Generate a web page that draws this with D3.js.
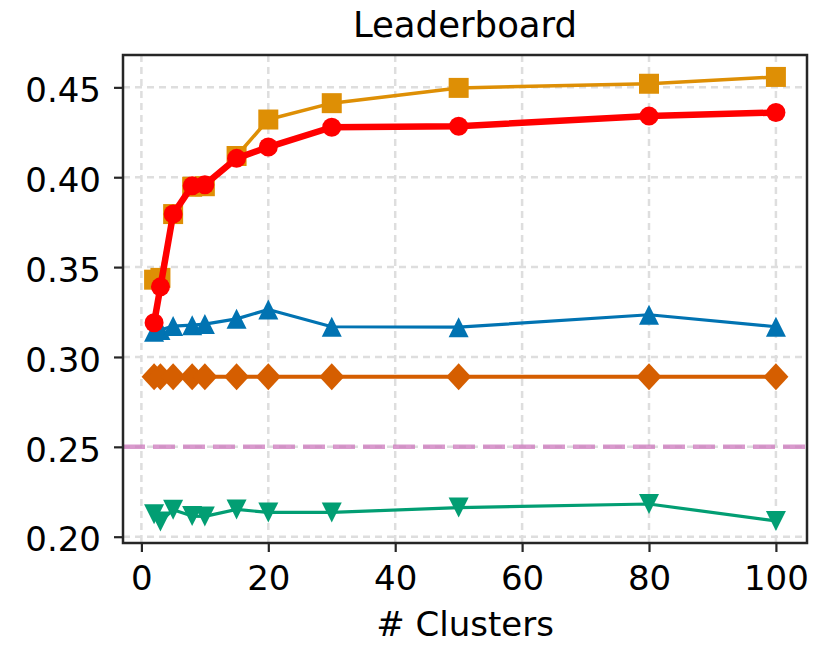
<!DOCTYPE html>
<html>
<head>
<meta charset="utf-8">
<script src="https://cdn.jsdelivr.net/npm/d3@7"></script>
<style>
  html, body { margin: 0; padding: 0; background: #fff; }
  svg { display: block; font-family: "DejaVu Sans", sans-serif; }
</style>
</head>
<body>
<svg id="chart" width="819" height="645"></svg>
<script>
// Number of clusters on the x axis
const clusters = [2, 3, 5, 8, 10, 15, 20, 30, 50, 80, 100];

// Leaderboard score per method
const goldSquares = [0.343, 0.344, 0.3795, 0.3947, 0.395, 0.4118, 0.4321, 0.4412, 0.4497, 0.452, 0.4558];
const redCircles  = [0.319, 0.339, 0.3795, 0.3952, 0.3958, 0.4105, 0.4168, 0.4278, 0.4284, 0.434, 0.436];
const blueUp      = [0.314, 0.315, 0.3172, 0.3177, 0.3183, 0.3212, 0.3264, 0.3168, 0.3166, 0.3235, 0.3168];
const orangeDiam  = [0.289, 0.289, 0.289, 0.289, 0.289, 0.289, 0.289, 0.289, 0.289, 0.289, 0.289];
const greenDown   = [0.2125, 0.2085, 0.2150, 0.2115, 0.2113, 0.2152, 0.2135, 0.2135, 0.2162, 0.2182, 0.2088];
const baseline    = 0.25;

const xTicks = [0, 20, 40, 60, 80, 100];
const yTicks = [0.20, 0.25, 0.30, 0.35, 0.40, 0.45];

const svg = d3.select("#chart");
const box = { left: 123, top: 55, right: 807, bottom: 543 };

const x = d3.scaleLinear().domain([-2.9, 104.9]).range([box.left, box.right]);
const y = d3.scaleLinear().domain([0.1965, 0.4680]).range([box.bottom, box.top]);

// Grid
const grid = svg.append("g");
grid.selectAll("line.gx").data(xTicks).join("line")
  .attr("x1", d => x(d)).attr("x2", d => x(d))
  .attr("y1", box.top).attr("y2", box.bottom)
  .attr("stroke", "#dedede").attr("stroke-width", 2.5).attr("stroke-dasharray", "7,5");
grid.selectAll("line.gy").data(yTicks).join("line")
  .attr("x1", box.left).attr("x2", box.right)
  .attr("y1", d => y(d)).attr("y2", d => y(d))
  .attr("stroke", "#dedede").attr("stroke-width", 2.5).attr("stroke-dasharray", "7,5");

// Reference level
svg.append("line")
  .attr("x1", box.left).attr("x2", box.right)
  .attr("y1", y(baseline)).attr("y2", y(baseline))
  .attr("stroke", "#CC78BC").attr("stroke-opacity", 0.75)
  .attr("stroke-width", 4.5).attr("stroke-dasharray", "22,8");

// Marker shapes, sized by half-extent
const shapes = {
  square:  r => `M${-r},${-r}H${r}V${r}H${-r}Z`,
  circle:  r => `M${r},0A${r},${r} 0 1,1 ${-r},0A${r},${r} 0 1,1 ${r},0Z`,
  up:      r => `M0,${-r}L${r},${r}L${-r},${r}Z`,
  down:    r => `M0,${r}L${r},${-r}L${-r},${-r}Z`,
  diamond: r => `M0,${-r * 1.08}L${r},0L0,${r * 1.08}L${-r},0Z`
};

const line = d3.line().x(d => x(d[0])).y(d => y(d[1]));

function series(values, color, width, shape, r) {
  const pts = clusters.map((c, i) => [c, values[i]]);
  const g = svg.append("g");
  g.append("path").datum(pts)
    .attr("d", line).attr("fill", "none")
    .attr("stroke", color).attr("stroke-width", width)
    .attr("stroke-linejoin", "round");
  g.selectAll("path.m").data(pts).join("path")
    .attr("class", "m")
    .attr("transform", d => `translate(${x(d[0])},${y(d[1])})`)
    .attr("d", shapes[shape](r))
    .attr("fill", color);
}

series(greenDown, "#029E73", 3.2, "down", 10);
series(orangeDiam, "#D55E00", 3.8, "diamond", 12.5);
series(blueUp, "#0173B2", 3.2, "up", 10);
series(goldSquares, "#DE8F05", 3.5, "square", 10);
series(redCircles, "#FF0000", 6.5, "circle", 9.5);

// Frame
svg.append("rect")
  .attr("x", box.left).attr("y", box.top)
  .attr("width", box.right - box.left).attr("height", box.bottom - box.top)
  .attr("fill", "none").attr("stroke", "#262626").attr("stroke-width", 2.5);

// Axes
const xAxis = svg.append("g")
  .attr("transform", `translate(0,${box.bottom})`)
  .call(d3.axisBottom(x).tickValues(xTicks).tickSize(9).tickPadding(14).tickFormat(d3.format("d")));
const yAxis = svg.append("g")
  .attr("transform", `translate(${box.left},0)`)
  .call(d3.axisLeft(y).tickValues(yTicks).tickSize(9).tickPadding(13).tickFormat(d3.format(".2f")));

[xAxis, yAxis].forEach(a => {
  a.select(".domain").remove();
  a.selectAll(".tick line").attr("stroke", "#262626").attr("stroke-width", 2.2);
  a.selectAll(".tick text")
    .attr("font-family", "DejaVu Sans, sans-serif")
    .attr("font-size", 34).attr("fill", "#000");
});
xAxis.selectAll(".tick text").attr("dy", "0.71em");
yAxis.selectAll(".tick text").attr("dy", "0.42em");

// Labels
svg.append("text")
  .attr("x", (box.left + box.right) / 2).attr("y", 37)
  .attr("text-anchor", "middle").attr("font-size", 35.5).attr("fill", "#000")
  .text("Leaderboard");
svg.append("text")
  .attr("x", (box.left + box.right) / 2).attr("y", 636)
  .attr("text-anchor", "middle").attr("font-size", 34).attr("fill", "#000")
  .text("# Clusters");
</script>
</body>
</html>
